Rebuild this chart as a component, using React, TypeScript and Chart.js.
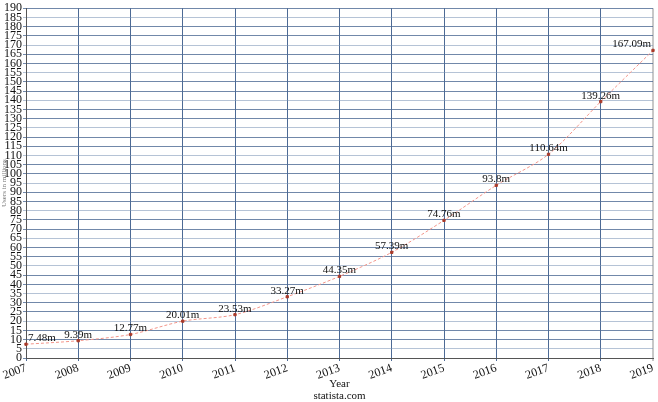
import React, { useEffect, useRef } from "react";
import { Chart, registerables } from "chart.js";

Chart.register(...registerables);

const years = ["2007", "2008", "2009", "2010", "2011", "2012", "2013", "2014", "2015", "2016", "2017", "2018", "2019"];
const users = [7.48, 9.39, 12.77, 20.01, 23.53, 33.27, 44.35, 57.39, 74.76, 93.8, 110.64, 139.26, 167.09];
const yTitle = "Users in millions";
const xTitle = ["Year", "statista.com"];

const SERIF = "'Liberation Serif', 'Times New Roman', serif";

const labelPlugin = {
  id: "valueLabels",
  afterDatasetsDraw(chart: any) {
    const { ctx, chartArea } = chart;
    const meta = chart.getDatasetMeta(0);
    ctx.save();
    ctx.font = `11px ${SERIF}`;
    ctx.fillStyle = "#111";
    ctx.textBaseline = "alphabetic";
    ctx.textAlign = "left";
    meta.data.forEach((pt: any, i: number) => {
      const txt = `${users[i]}m`;
      const w = ctx.measureText(txt).width;
      let x = pt.x - w / 2;
      if (x < chartArea.left + 2) x = chartArea.left + 2;
      if (x + w > chartArea.right - 2) x = chartArea.right - 2 - w;
      ctx.fillText(txt, x, pt.y - 3);
    });
    ctx.restore();
  },
};

export default function App() {
  const ref = useRef<HTMLCanvasElement>(null);
  useEffect(() => {
    document.body.style.margin = "0";
    const chart = new Chart(ref.current!, {
      type: "line",
      data: {
        labels: years,
        datasets: [
          {
            data: users,
            borderColor: "#f3958a",
            borderWidth: 1,
            borderDash: [3, 2],
            tension: 0.3,
            pointStyle: "rect",
            pointRadius: 1.6,
            pointBackgroundColor: "#a83a2a",
            pointBorderColor: "#a83a2a",
            pointBorderWidth: 1,
            fill: false,
          },
        ],
      },
      options: {
        animation: false,
        responsive: false,
        maintainAspectRatio: false,
        layout: { padding: { top: 4, right: 4, left: 0, bottom: 0 } },
        plugins: { legend: { display: false }, tooltip: { enabled: false } },
        scales: {
          x: {
            offset: false,
            grid: {
              color: (c: any) => (c.index === years.length - 1 ? "#c8c8c8" : "#4d6a95"),
              lineWidth: (c: any) => (c.index === years.length - 1 ? 2 : 1),
              tickLength: 3,
            },
            border: { color: "#555", width: 1 },
            ticks: {
              color: "#111",
              font: { family: SERIF, size: 12 },
              minRotation: 20,
              maxRotation: 20,
              autoSkip: false,
              padding: 0,
            },
            title: {
              display: true,
              text: xTitle,
              color: "#111",
              font: { family: SERIF, size: 11, lineHeight: 1.1 },
              padding: { top: 0, bottom: 0 },
            },
            afterFit: (s: any) => {
              s.height = 44;
            },
          },
          y: {
            min: 0,
            max: 190,
            grid: {
              color: (c: any) => (c.index % 3 === 1 ? "rgba(120,145,180,0.55)" : "rgba(77,106,149,0.8)"),
              lineWidth: 1,
              tickLength: 3,
            },
            border: { color: "#555", width: 1 },
            ticks: {
              stepSize: 5,
              autoSkip: false,
              color: "#111",
              font: { family: SERIF, size: 12 },
              padding: 1,
            },
            title: {
              display: true,
              text: yTitle,
              color: "#777",
              font: { family: SERIF, size: 7 },
              padding: 0,
            },
            afterFit: (s: any) => {
              s.width = 26;
            },
          },
        },
      },
      plugins: [labelPlugin],
    });
    return () => chart.destroy();
  }, []);
  return (
    <div style={{ position: "absolute", left: 0, top: 0, width: 658, height: 402, background: "#fff" }}>
      <canvas ref={ref} width={658} height={402} style={{ width: 658, height: 402 }} />
    </div>
  );
}
